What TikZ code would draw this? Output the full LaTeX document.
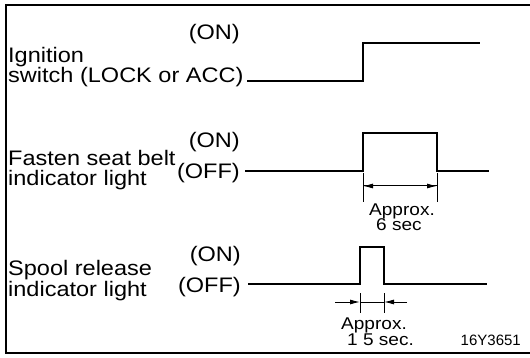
\documentclass[tikz,border=0pt]{standalone}
\usepackage{fontspec}
\setmainfont{Liberation Sans}
\newfontfamily\diagfont[FakeStretch=1.12]{Liberation Sans}
\usetikzlibrary{arrows.meta, positioning}

\begin{document}
\begin{tikzpicture}[
        x=1pt, y=-1pt,
        lbl/.style={
            anchor=base west,
            inner sep=0pt,
            font=\diagfont\fontsize{21}{22}\selectfont
        },
        state/.style={
            anchor=base east,
            inner sep=0pt,
            font=\diagfont\fontsize{21}{22}\selectfont
        },
        note/.style={
            anchor=base west,
            inner sep=0pt,
            font=\diagfont\fontsize{17}{18}\selectfont
        },
        wave/.style={line width=2.8pt, line join=miter},
        frame/.style={line width=1.4pt},
        dim/.style={line width=1pt},
        tick/.style={line width=0.9pt},
        arrow/.style={dim, -{Latex[length=10pt, width=5pt]}}
    ]

    \useasboundingbox (0,0) rectangle (530,358);

    % Frame (open on the right side)
    \draw[frame] (530,5) -- (6,5) -- (6,353) -- (530,353);

    % Ignition switch
    \node[lbl]   (ign)    at (8,63)   {Ignition};
    \node[lbl]   (ignsw)  at (8,83)   {switch (LOCK or ACC)};
    \node[state] (ignon)  at (240,40) {(ON)};
    \draw[wave] (247,81) -- (363,81) -- (363,43) -- (480,43);

    % Fasten seat belt indicator light
    \node[lbl]   (belt)    at (8,166)   {Fasten seat belt};
    \node[lbl]   (beltind) at (8,186)   {indicator light};
    \node[state] (belton)  at (240,148) {(ON)};
    \node[state] (beltoff) at (240,179) {(OFF)};
    \draw[wave] (245,171) -- (363,171) -- (363,133) -- (437,133) -- (437,171) -- (489,171);

    % Seat belt timing (6 sec)
    \coordinate (bl) at (363,186);
    \coordinate (br) at (437,186);
    \draw[tick] (363,173) -- (363,202);
    \draw[tick] (437,173) -- (437,202);
    \draw[arrow] (bl) -- (br);
    \draw[arrow] (br) -- (bl);
    \node[note] (beltapp) at (369,215) {Approx.};
    \node[note] (beltsec) at (376,231) {6 sec};

    % Spool release indicator light
    \node[lbl]   (spool)    at (8,275)   {Spool release};
    \node[lbl]   (spoolind) at (8,296)   {indicator light};
    \node[state] (spoolon)  at (241,261) {(ON)};
    \node[state] (spooloff) at (241,292) {(OFF)};
    \draw[wave] (248,284) -- (360,284) -- (360,247) -- (384,247) -- (384,284) -- (487,284);

    % Spool timing (1.5 sec)
    \coordinate (sl) at (335,302);
    \coordinate (sr) at (407,302);
    \draw[tick] (360,293) -- (360,313);
    \draw[tick] (384,293) -- (384,313);
    \draw[dim] (360,302) -- (384,302);
    \draw[arrow] (sl) -- (360,302);
    \draw[arrow] (sr) -- (384,302);
    \node[note] (spoolapp) at (341,329) {Approx.};
    \node[note] (spoolsec) at (347,345) {1 5 sec.};

    % Figure number
    \node[note, anchor=base east, font=\fontsize{15}{16}\selectfont] (fig) at (521,345) {16Y3651};

\end{tikzpicture}
\end{document}
